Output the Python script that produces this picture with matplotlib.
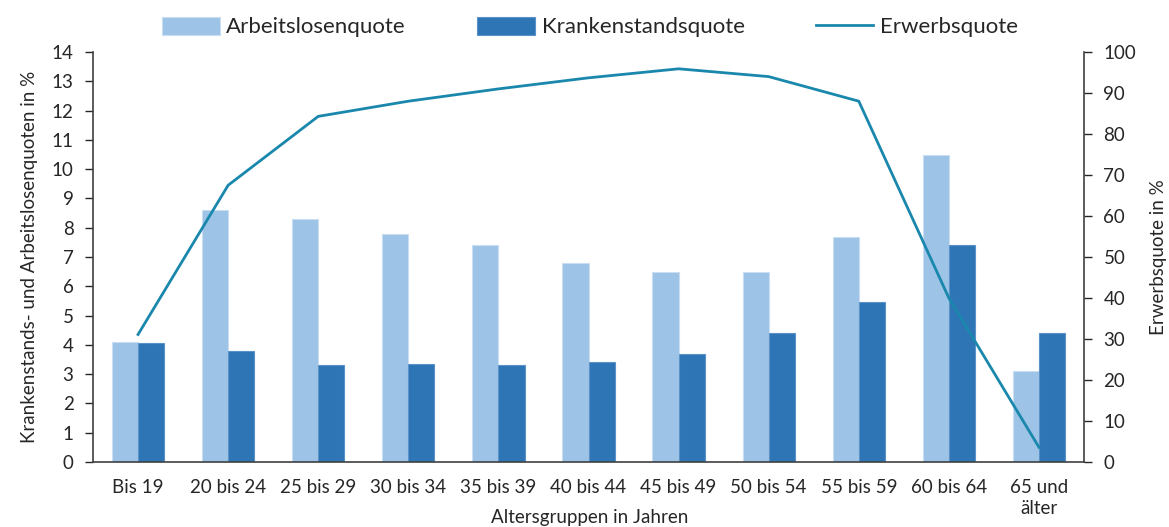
import matplotlib
matplotlib.use("Agg")
import matplotlib.pyplot as plt
import numpy as np

categories = ["Bis 19", "20 bis 24", "25 bis 29", "30 bis 34", "35 bis 39", "40 bis 44",
              "45 bis 49", "50 bis 54", "55 bis 59", "60 bis 64", "65 und\nälter"]
arbeitslosenquote = [4.1, 8.6, 8.3, 7.8, 7.4, 6.8, 6.5, 6.5, 7.7, 10.5, 3.1]
krankenstandsquote = [4.05, 3.8, 3.3, 3.35, 3.3, 3.4, 3.7, 4.4, 5.45, 7.4, 4.4]
erwerbsquote = [31.1, 67.5, 84.3, 88.0, 91.0, 93.7, 95.9, 94.0, 88.0, 40.0, 3.6]

plt.rcParams['font.family'] = ['Lato', 'DejaVu Sans']

c_light = "#9dc3e6"
c_dark = "#2e75b6"
c_line = "#1a87ad"
c_text = "#262626"

fig = plt.figure(figsize=(11.69, 5.27), dpi=100)
ax = fig.add_axes([93/1169, 1 - 462/527, (1084-93)/1169, (462-52)/527])
ax2 = ax.twinx()

x = np.arange(len(categories))
w = 0.29
b1 = ax.bar(x - w/2, arbeitslosenquote, w, color=c_light, edgecolor="#c9def2", linewidth=0.8,
            label="Arbeitslosenquote", zorder=2)
b2 = ax.bar(x + w/2, krankenstandsquote, w, color=c_dark, edgecolor="#5b93c8", linewidth=0.8,
            label="Krankenstandsquote", zorder=2)
l1, = ax2.plot(x, erwerbsquote, color=c_line, linewidth=2, label="Erwerbsquote")

ax.set_xlim(-0.5, len(categories) - 0.5)
ax.set_ylim(0, 14)
ax.set_yticks(range(0, 15))
ax2.set_ylim(0, 100)
ax2.set_yticks(range(0, 101, 10))

ax.set_xticks(x)
ax.set_xticklabels(categories, fontsize=13.5, color=c_text, linespacing=1.3)
ax.tick_params(axis='x', length=0, pad=12)
ax.tick_params(axis='y', labelsize=13.5, colors=c_text, length=6, width=1, direction='out', pad=8)
ax2.tick_params(axis='y', labelsize=13.5, colors=c_text, length=6, width=1, direction='out', pad=8)

for a in (ax, ax2):
    a.spines['top'].set_visible(False)
    for s in ('left', 'right', 'bottom'):
        a.spines[s].set_color("#404040")
        a.spines[s].set_linewidth(1.2)
ax.spines['right'].set_visible(False)
ax2.spines['left'].set_visible(False)
ax2.spines['bottom'].set_visible(False)

ax.set_ylabel("Krankenstands- und Arbeitslosenquoten in %", fontsize=13.5, color=c_text, labelpad=10)
ax2.set_ylabel("Erwerbsquote in %", fontsize=13.5, color=c_text, labelpad=10)
fig.text(590/1169, 1 - 517/527, "Altersgruppen in Jahren", fontsize=13.5, color=c_text,
         ha='center', va='center')

ax2.set_zorder(ax.get_zorder() + 1)
ax2.patch.set_visible(False)

fig.legend(handles=[b1, b2, l1], labels=["Arbeitslosenquote", "Krankenstandsquote", "Erwerbsquote"],
           loc='center', bbox_to_anchor=(590/1169, 1 - 27/527), ncol=3, frameon=False,
           fontsize=16, handlelength=2.6, handleheight=0.9, columnspacing=3.2, handletextpad=0.3,
           labelcolor=c_text)

fig.savefig("out.png", dpi=100)
